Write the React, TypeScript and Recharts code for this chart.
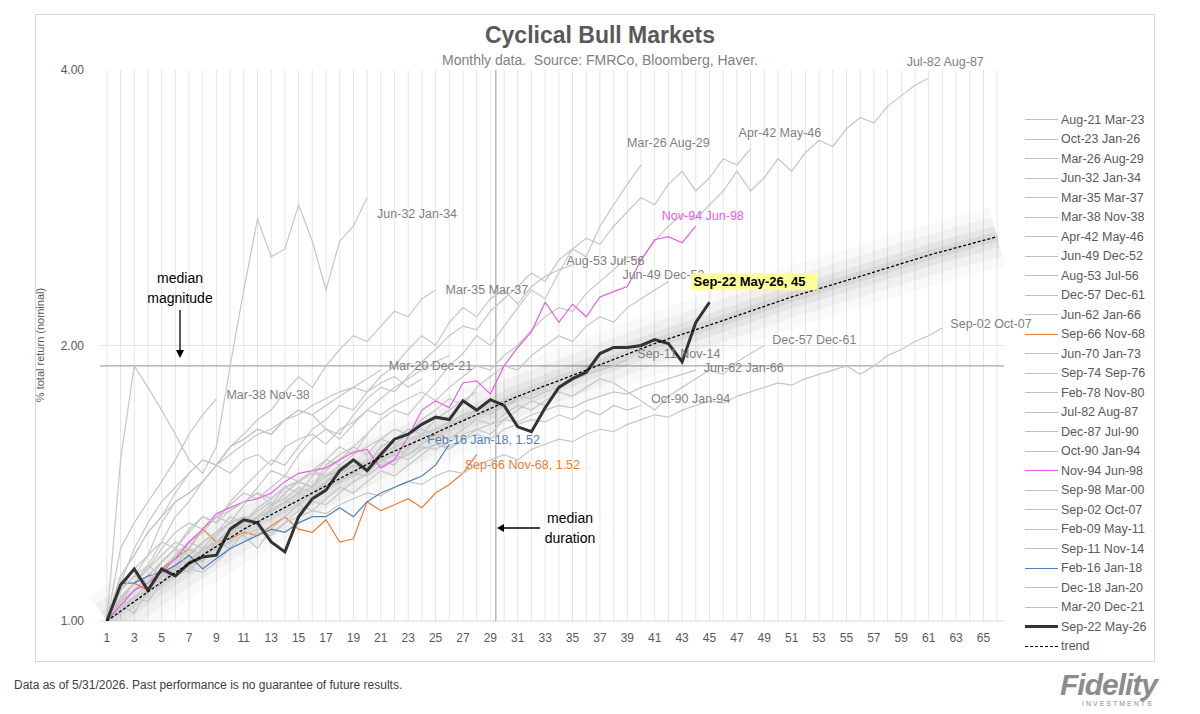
import { LineChart, Line, XAxis, YAxis, ReferenceLine } from "recharts";

const FONT = "'Liberation Sans', Arial, sans-serif";

// each cycle: months since start, value of $1
const aug21 = [1, 1.05, 1.08, 1.12, 1.1, 1.15, 1.2, 1.18, 1.24, 1.28, 1.3, 1.27, 1.33, 1.38, 1.42, 1.4, 1.48, 1.52, 1.55, 1.6];
const oct23 = [1, 1.04, 1.02, 1.08, 1.12, 1.15, 1.13, 1.18, 1.22, 1.2, 1.25, 1.3, 1.32, 1.35, 1.38, 1.36, 1.42, 1.47, 1.5, 1.48, 1.55, 1.58, 1.62, 1.6, 1.66, 1.7, 1.74, 1.78];
const mar26 = [1, 1.06, 1.1, 1.08, 1.14, 1.18, 1.22, 1.2, 1.25, 1.3, 1.28, 1.33, 1.36, 1.4, 1.38, 1.44, 1.5, 1.55, 1.52, 1.6, 1.66, 1.7, 1.68, 1.75, 1.82, 1.9, 1.96, 2.05, 2.0, 2.1, 2.2, 2.3, 2.25, 2.4, 2.55, 2.5, 2.7, 2.85, 3.0, 3.15];
const jun32 = [1, 1.5, 1.9, 1.8, 1.7, 1.6, 1.5, 1.45, 1.55, 1.9, 2.3, 2.75, 2.5, 2.55, 2.85, 2.6, 2.3, 2.6, 2.7, 2.9];
const mar35 = [1, 1.08, 1.12, 1.15, 1.22, 1.3, 1.35, 1.42, 1.48, 1.55, 1.6, 1.66, 1.7, 1.78, 1.85, 1.8, 1.9, 1.98, 2.05, 2.02, 2.1, 2.18, 2.15, 2.25, 2.3];
const mar38 = [1, 1.2, 1.28, 1.35, 1.42, 1.5, 1.6, 1.68, 1.75];
const apr42 = [1, 1.04, 1.08, 1.12, 1.1, 1.16, 1.22, 1.25, 1.3, 1.28, 1.34, 1.4, 1.46, 1.44, 1.52, 1.58, 1.62, 1.6, 1.68, 1.75, 1.8, 1.78, 1.85, 1.92, 1.98, 2.05, 2.1, 2.08, 2.18, 2.25, 2.32, 2.4, 2.35, 2.48, 2.55, 2.62, 2.58, 2.7, 2.8, 2.9, 2.85, 3.0, 3.1, 2.95, 3.05, 3.2, 3.15, 3.28];
const jun49 = [1, 1.03, 1.06, 1.05, 1.1, 1.14, 1.18, 1.16, 1.22, 1.26, 1.3, 1.28, 1.33, 1.38, 1.42, 1.4, 1.46, 1.5, 1.55, 1.52, 1.58, 1.62, 1.6, 1.66, 1.7, 1.75, 1.72, 1.8, 1.85, 1.9, 1.88, 1.95, 2.0, 2.05, 2.02, 2.1, 2.15, 2.12, 2.2, 2.25, 2.3, 2.35];
const aug53 = [1, 1.05, 1.08, 1.12, 1.16, 1.2, 1.25, 1.3, 1.28, 1.35, 1.4, 1.45, 1.5, 1.48, 1.55, 1.62, 1.66, 1.72, 1.7, 1.78, 1.85, 1.9, 1.98, 2.05, 2.0, 2.12, 2.2, 2.15, 2.25, 2.3, 2.22, 2.32, 2.38, 2.42, 2.45];
const dec57 = [1, 1.04, 1.06, 1.1, 1.12, 1.15, 1.18, 1.22, 1.25, 1.28, 1.26, 1.3, 1.34, 1.36, 1.4, 1.38, 1.42, 1.45, 1.48, 1.46, 1.5, 1.54, 1.52, 1.56, 1.6, 1.58, 1.62, 1.66, 1.64, 1.68, 1.72, 1.7, 1.74, 1.78, 1.76, 1.8, 1.84, 1.82, 1.78, 1.74, 1.7, 1.76, 1.8, 1.84, 1.88, 1.86, 1.92, 1.96, 2.0];
const jun62 = [1, 1.05, 1.08, 1.1, 1.14, 1.12, 1.16, 1.2, 1.22, 1.25, 1.28, 1.3, 1.32, 1.35, 1.34, 1.38, 1.4, 1.42, 1.45, 1.44, 1.48, 1.5, 1.52, 1.55, 1.54, 1.57, 1.6, 1.62, 1.64, 1.66, 1.65, 1.68, 1.7, 1.72, 1.71, 1.74, 1.76, 1.78, 1.77, 1.8, 1.82, 1.84, 1.86, 1.88];
const sep66 = [1, 1.06, 1.1, 1.08, 1.14, 1.17, 1.2, 1.26, 1.22, 1.23, 1.25, 1.24, 1.27, 1.3, 1.26, 1.25, 1.29, 1.22, 1.23, 1.35, 1.32, 1.34, 1.36, 1.33, 1.38, 1.41, 1.45, 1.52];
const jun70 = [1, 1.06, 1.1, 1.14, 1.18, 1.22, 1.2, 1.26, 1.3, 1.34, 1.38, 1.36, 1.4, 1.44, 1.42, 1.46, 1.5, 1.48, 1.52, 1.55, 1.58, 1.56, 1.6, 1.62, 1.6, 1.64, 1.66, 1.68, 1.7, 1.72, 1.75];
const sep74 = [1, 1.12, 1.18, 1.25, 1.3, 1.38, 1.45, 1.5, 1.48, 1.55, 1.58, 1.62, 1.6, 1.66, 1.7, 1.68, 1.72, 1.76, 1.8, 1.78, 1.82, 1.85, 1.8, 1.84];
const feb78 = [1, 1.05, 1.1, 1.15, 1.12, 1.18, 1.2, 1.16, 1.22, 1.26, 1.24, 1.2, 1.26, 1.3, 1.34, 1.32, 1.36, 1.4, 1.38, 1.42, 1.46, 1.44, 1.48, 1.52, 1.56, 1.54, 1.58, 1.62, 1.6, 1.66, 1.7, 1.74, 1.72];
const jul82 = [1, 1.08, 1.12, 1.18, 1.28, 1.35, 1.38, 1.42, 1.48, 1.45, 1.5, 1.52, 1.48, 1.55, 1.58, 1.6, 1.56, 1.62, 1.65, 1.7, 1.68, 1.72, 1.75, 1.78, 1.74, 1.8, 1.85, 1.9, 1.88, 1.95, 2.0, 2.08, 2.15, 2.2, 2.18, 2.28, 2.35, 2.42, 2.5, 2.48, 2.6, 2.7, 2.78, 2.75, 2.85, 2.95, 3.1, 2.95, 3.05, 3.2, 3.1, 3.25, 3.35, 3.3, 3.45, 3.55, 3.5, 3.65, 3.75, 3.85, 3.92];
const dec87 = [1, 1.04, 1.06, 1.08, 1.1, 1.12, 1.14, 1.13, 1.16, 1.2, 1.22, 1.25, 1.24, 1.28, 1.32, 1.35, 1.34, 1.38, 1.42, 1.45, 1.5, 1.48, 1.55, 1.6, 1.58, 1.64, 1.66, 1.7, 1.68, 1.72, 1.74];
const oct90 = [1, 1.06, 1.1, 1.14, 1.2, 1.25, 1.28, 1.26, 1.3, 1.32, 1.35, 1.38, 1.36, 1.4, 1.42, 1.45, 1.44, 1.46, 1.48, 1.47, 1.5, 1.52, 1.5, 1.54, 1.56, 1.55, 1.58, 1.6, 1.58, 1.62, 1.64, 1.66, 1.65, 1.68, 1.66, 1.7, 1.68, 1.72, 1.7, 1.72];
const nov94 = [1, 1.04, 1.08, 1.1, 1.13, 1.17, 1.22, 1.26, 1.31, 1.33, 1.35, 1.36, 1.38, 1.42, 1.45, 1.46, 1.47, 1.5, 1.53, 1.54, 1.47, 1.5, 1.59, 1.7, 1.74, 1.71, 1.82, 1.83, 1.77, 1.9, 1.99, 2.07, 2.23, 2.12, 2.22, 2.15, 2.26, 2.29, 2.32, 2.48, 2.61, 2.63, 2.59, 2.7];
const sep98 = [1, 1.08, 1.14, 1.18, 1.22, 1.2, 1.26, 1.3, 1.28, 1.32, 1.35, 1.38, 1.34, 1.4, 1.42, 1.46, 1.44, 1.48];
const sep02 = [1, 1.02, 1.06, 1.08, 1.12, 1.15, 1.13, 1.18, 1.2, 1.22, 1.24, 1.26, 1.25, 1.28, 1.3, 1.32, 1.31, 1.34, 1.36, 1.38, 1.37, 1.4, 1.42, 1.41, 1.44, 1.46, 1.45, 1.48, 1.5, 1.52, 1.5, 1.54, 1.56, 1.58, 1.57, 1.6, 1.62, 1.61, 1.64, 1.66, 1.68, 1.67, 1.7, 1.72, 1.74, 1.73, 1.76, 1.78, 1.8, 1.82, 1.81, 1.84, 1.86, 1.88, 1.9, 1.86, 1.9, 1.95, 1.98, 2.02, 2.05, 2.09];
const feb09 = [1, 1.1, 1.2, 1.28, 1.35, 1.4, 1.45, 1.5, 1.48, 1.55, 1.58, 1.62, 1.6, 1.66, 1.7, 1.68, 1.62, 1.58, 1.64, 1.7, 1.75, 1.8, 1.84, 1.88, 1.92, 1.95];
const sep11 = [1, 1.06, 1.1, 1.12, 1.16, 1.2, 1.18, 1.22, 1.25, 1.28, 1.3, 1.28, 1.32, 1.35, 1.38, 1.4, 1.44, 1.46, 1.45, 1.48, 1.52, 1.55, 1.58, 1.6, 1.62, 1.65, 1.68, 1.7, 1.72, 1.74, 1.76, 1.75, 1.78, 1.8, 1.83, 1.86, 1.88, 1.9, 1.93];
const feb16 = [1, 1.1, 1.1, 1.12, 1.13, 1.15, 1.18, 1.14, 1.17, 1.2, 1.22, 1.24, 1.26, 1.25, 1.28, 1.3, 1.3, 1.33, 1.3, 1.35, 1.38, 1.4, 1.42, 1.44, 1.48, 1.56];
const dec18 = [1, 1.08, 1.12, 1.1, 1.16, 1.2, 1.14, 1.2, 1.22, 1.24, 1.28, 1.32, 1.35];
const mar20 = [1, 1.12, 1.18, 1.25, 1.3, 1.35, 1.38, 1.42, 1.48, 1.52, 1.56, 1.6, 1.62, 1.66, 1.68, 1.72, 1.75, 1.78, 1.8, 1.84, 1.88];
const sep22 = [1, 1.095, 1.14, 1.08, 1.14, 1.12, 1.157, 1.175, 1.18, 1.26, 1.29, 1.28, 1.22, 1.19, 1.3, 1.36, 1.39, 1.46, 1.5, 1.46, 1.52, 1.58, 1.6, 1.64, 1.67, 1.66, 1.74, 1.7, 1.745, 1.72, 1.63, 1.61, 1.71, 1.8, 1.84, 1.87, 1.96, 1.99, 1.99, 2.0, 2.03, 2.01, 1.92, 2.12, 2.23];
// trend every five months
const trendMonths = [1, 6, 11, 16, 21, 26, 31, 36, 41, 46, 51, 56, 61, 66];
const trendValues = [1.0, 1.13, 1.26, 1.38, 1.51, 1.63, 1.76, 1.88, 2.01, 2.13, 2.26, 2.38, 2.51, 2.63];

const months = Array.from({ length: 66 }, (_, i) => i + 1);
const xTicks = months.filter((m) => m % 2 === 1);
const yTicks = [1, 2, 4];
const MEDIAN_MAGNITUDE = 1.9;
const MEDIAN_DURATION = 29.4;

type S = { key: string; name: string; values: number[]; color: string; width: number; label?: [number, number, string?] };

const GRAY = "#c6c6c6";
const series: S[] = [
  { key: "aug21", name: "Aug-21 Mar-23", values: aug21, color: GRAY, width: 1.2 },
  { key: "oct23", name: "Oct-23 Jan-26", values: oct23, color: GRAY, width: 1.2 },
  { key: "mar26", name: "Mar-26 Aug-29", values: mar26, color: GRAY, width: 1.2, label: [-14, -18] },
  { key: "jun32", name: "Jun-32 Jan-34", values: jun32, color: GRAY, width: 1.2, label: [10, 20] },
  { key: "mar35", name: "Mar-35 Mar-37", values: mar35, color: GRAY, width: 1.2, label: [10, 4] },
  { key: "mar38", name: "Mar-38 Nov-38", values: mar38, color: GRAY, width: 1.2, label: [10, 0] },
  { key: "apr42", name: "Apr-42 May-46", values: apr42, color: GRAY, width: 1.2, label: [-12, -12] },
  { key: "jun49", name: "Jun-49 Dec-52", values: jun49, color: GRAY, width: 1.2, label: [-46, -2] },
  { key: "aug53", name: "Aug-53 Jul-56", values: aug53, color: GRAY, width: 1.2, label: [-6, 0] },
  { key: "dec57", name: "Dec-57 Dec-61", values: dec57, color: GRAY, width: 1.2, label: [8, -2] },
  { key: "jun62", name: "Jun-62 Jan-66", values: jun62, color: GRAY, width: 1.2, label: [8, 2] },
  { key: "sep66", name: "Sep-66 Nov-68", values: sep66, color: "#ed7d31", width: 1.2, label: [-12, 14, ", 1.52"] },
  { key: "jun70", name: "Jun-70 Jan-73", values: jun70, color: GRAY, width: 1.2 },
  { key: "sep74", name: "Sep-74 Sep-76", values: sep74, color: GRAY, width: 1.2 },
  { key: "feb78", name: "Feb-78 Nov-80", values: feb78, color: GRAY, width: 1.2 },
  { key: "jul82", name: "Jul-82 Aug-87", values: jul82, color: GRAY, width: 1.2, label: [-22, -12] },
  { key: "dec87", name: "Dec-87 Jul-90", values: dec87, color: GRAY, width: 1.2 },
  { key: "oct90", name: "Oct-90 Jan-94", values: oct90, color: GRAY, width: 1.2, label: [10, -2] },
  { key: "nov94", name: "Nov-94 Jun-98", values: nov94, color: "#e65ee6", width: 1.2, label: [-34, -6] },
  { key: "sep98", name: "Sep-98 Mar-00", values: sep98, color: GRAY, width: 1.2 },
  { key: "sep02", name: "Sep-02 Oct-07", values: sep02, color: GRAY, width: 1.2, label: [8, 0] },
  { key: "feb09", name: "Feb-09 May-11", values: feb09, color: GRAY, width: 1.2 },
  { key: "sep11", name: "Sep-11 Nov-14", values: sep11, color: GRAY, width: 1.2, label: [10, -2] },
  { key: "feb16", name: "Feb-16 Jan-18", values: feb16, color: "#4f81bd", width: 1.2, label: [-22, 0, ", 1.52"] },
  { key: "dec18", name: "Dec-18 Jan-20", values: dec18, color: GRAY, width: 1.2 },
  { key: "mar20", name: "Mar-20 Dec-21", values: mar20, color: GRAY, width: 1.2, label: [8, 0] },
  { key: "sep22", name: "Sep-22 May-26", values: sep22, color: "#333333", width: 3, label: [-16, -16, ", 45"] },
];

const data = months.map((m) => {
  const row: Record<string, number | null> = { m };
  series.forEach((s) => {
    row[s.key] = m <= s.values.length ? s.values[m - 1] : null;
  });
  const ti = trendMonths.indexOf(m);
  row.trend = ti >= 0 ? trendValues[ti] : null;
  return row;
});

const endLabel = (s: S) => (props: any) => {
  const { x, y, index } = props;
  if (!s.label || index !== s.values.length - 1) return null;
  const [dx, dy, extra] = s.label;
  const main = s.key === "sep22";
  const text = s.name + (extra ?? "");
  const color = s.color === GRAY ? "#7f7f7f" : s.color === "#333333" ? "#000" : s.color;
  return (
    <g>
      {main && <rect x={x + dx - 2} y={y + dy - 13} width={126} height={17} fill="#ffff99" />}
      <text x={x + dx} y={y + dy} fontSize={main ? 13 : 12.5} fontWeight={main ? 700 : 400} fill={color} fontFamily={FONT}>
        {text}
      </text>
    </g>
  );
};

const bandLine = (w: number, o: number) => (
  <Line dataKey="trend" connectNulls stroke="#000" strokeOpacity={o} strokeWidth={w} strokeLinejoin="round"
    dot={false} isAnimationActive={false} legendType="none" />
);

export default function App() {
  return (
    <div style={{ position: "relative", width: 1200, height: 714, margin: -8, background: "#fff", fontFamily: FONT, overflow: "hidden" }}>
      <div style={{ position: "absolute", left: 35, top: 14, width: 1118, height: 646, border: "1px solid #d9d9d9" }} />
      <div style={{ position: "absolute", left: 0, width: 1200, top: 22, textAlign: "center", fontSize: 23, fontWeight: 700, color: "#595959" }}>
        Cyclical Bull Markets
      </div>
      <div style={{ position: "absolute", left: 0, width: 1200, top: 52, textAlign: "center", fontSize: 14, color: "#7f7f7f" }}>
        Monthly data.&nbsp; Source: FMRCo, Bloomberg, Haver.
      </div>
      <div style={{ position: "absolute", left: 40, top: 345, transform: "translate(-50%,-50%) rotate(-90deg)", fontSize: 11, color: "#595959", whiteSpace: "nowrap" }}>
        % total return (nominal)
      </div>
      <LineChart width={1200} height={714} data={data} margin={{ top: 70, bottom: 92, left: 99, right: 196 }} style={{ position: "absolute", left: 0, top: 0 }}>
        {months.map((m) => (
          <ReferenceLine key={m} x={m} stroke="#e6e6e6" strokeWidth={1} />
        ))}
        <XAxis dataKey="m" type="number" domain={[0.5, 66.5]} ticks={xTicks} height={1} axisLine={false} tickLine={false}
          tick={{ fontSize: 12, fill: "#595959", fontFamily: FONT }} tickMargin={6} interval={0} />
        <YAxis type="number" scale="log" domain={[1, 4]} ticks={yTicks} width={1} axisLine={false} tickLine={false}
          tickFormatter={(v: number) => v.toFixed(2)} tick={{ fontSize: 12, fill: "#595959", fontFamily: FONT }} tickMargin={10} allowDataOverflow />
        <ReferenceLine y={2} stroke="#e6e6e6" />
        <ReferenceLine y={1} stroke="#d9d9d9" />
        <ReferenceLine x={MEDIAN_DURATION} stroke="#a6a6a6" strokeWidth={1.2} />
        <ReferenceLine y={MEDIAN_MAGNITUDE} stroke="#a6a6a6" strokeWidth={1.2} />
        {bandLine(60, 0.025)}
        {bandLine(40, 0.035)}
        {bandLine(22, 0.045)}
        {bandLine(10, 0.05)}
        {series.map((s) => (
          <Line key={s.key} dataKey={s.key} stroke={s.color} strokeWidth={s.width} dot={false} isAnimationActive={false}
            label={endLabel(s)} />
        ))}
        <Line dataKey="trend" connectNulls stroke="#000" strokeDasharray="3 2" strokeWidth={1.3} dot={false} isAnimationActive={false} />
      </LineChart>
      <div style={{ position: "absolute", left: 120, top: 268, width: 120, textAlign: "center", fontSize: 14, lineHeight: "20px", color: "#000" }}>
        median<br />magnitude
      </div>
      <svg style={{ position: "absolute", left: 0, top: 0 }} width={1200} height={714}>
        <line x1={180} y1={310} x2={180} y2={352} stroke="#000" strokeWidth={1.3} />
        <polygon points="176,350 184,350 180,358" fill="#000" />
        <line x1={502} y1={528} x2={540} y2={528} stroke="#000" strokeWidth={1.3} />
        <polygon points="504,524 504,532 497,528" fill="#000" />
      </svg>
      <div style={{ position: "absolute", left: 540, top: 508, width: 60, textAlign: "center", fontSize: 14, lineHeight: "20px", color: "#000" }}>
        median<br />duration
      </div>
      <div style={{ position: "absolute", left: 1025, top: 110 }}>
        {series.map((s) => (
          <div key={s.key} style={{ display: "flex", alignItems: "center", height: 19.5 }}>
            <div style={{ width: 33, height: 0, borderTop: `${s.key === "sep22" ? 3 : 1.3}px solid ${s.color === GRAY ? "#bfbfbf" : s.color}` }} />
            <span style={{ fontSize: 12.5, color: "#595959", marginLeft: 3 }}>{s.name}</span>
          </div>
        ))}
        <div style={{ display: "flex", alignItems: "center", height: 19.5 }}>
          <div style={{ width: 33, height: 0, borderTop: "1.5px dashed #000" }} />
          <span style={{ fontSize: 12.5, color: "#595959", marginLeft: 3 }}>trend</span>
        </div>
      </div>
      <div style={{ position: "absolute", left: 14, top: 678, fontSize: 12, color: "#404040" }}>
        Data as of 5/31/2026. Past performance is no guarantee of future results.
      </div>
      <div style={{ position: "absolute", left: 1060, top: 668, fontSize: 30, fontWeight: 700, fontStyle: "italic", color: "#8c8c8c", letterSpacing: -1 }}>
        Fidelity
      </div>
      <div style={{ position: "absolute", left: 1082, top: 700, fontSize: 7, color: "#8c8c8c", letterSpacing: 2 }}>
        INVESTMENTS
      </div>
    </div>
  );
}
